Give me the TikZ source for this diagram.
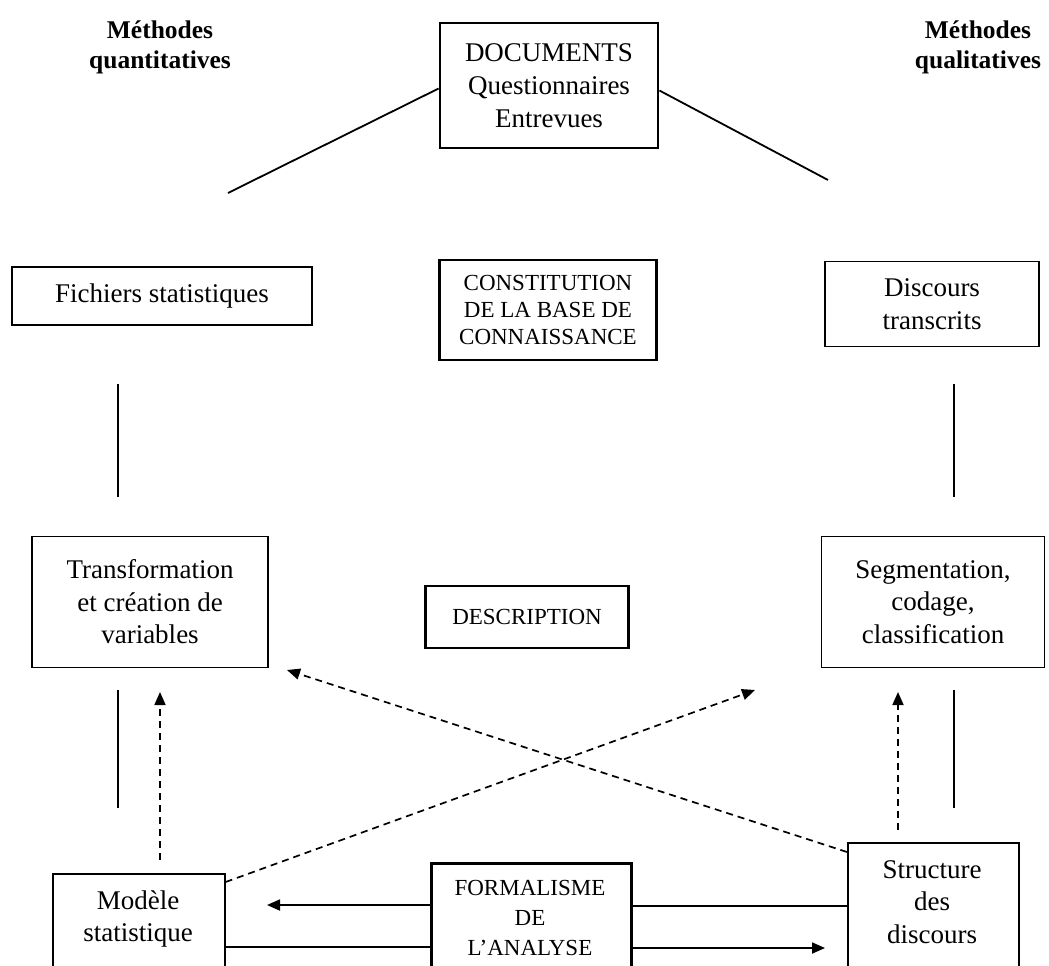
\documentclass[tikz,border=0pt]{standalone}
\usepackage{fontspec}
\setmainfont{Liberation Serif}
\usetikzlibrary{arrows.meta}
\begin{document}
\begin{tikzpicture}[x=1pt,y=-1pt,
  box/.style={draw, line width=1.6pt, align=center, inner sep=0pt, font=\fontsize{27}{32.5}\selectfont},
  thickbox/.style={box, line width=2.8pt, font=\fontsize{23}{27}\selectfont},
  txt/.style={align=center, inner sep=0pt, font=\fontsize{27}{32.5}\selectfont},
  title/.style={align=center, inner sep=0pt, font=\fontsize{25.5}{30}\selectfont\bfseries},
  conn/.style={line width=1.8pt},
  tip/.style={-{Triangle[length=13pt,width=11pt]}},
  dconn/.style={line width=1.7pt, dash pattern=on 7pt off 5pt, tip},
  arr/.style={line width=1.8pt, tip}]
\clip (0,0) rectangle (1049,966);
\fill[white] (0,0) rectangle (1049,966);
% titles
\node[title] (tq) at (160,47) {Méthodes\\quantitatives};
\node[title] (tl) at (978,47) {Méthodes\\qualitatives};
% top
\node[thickbox, font=\fontsize{27}{33}\selectfont, minimum width=218, minimum height=125] (doc) at (549,85.5) {DOCUMENTS\\Questionnaires\\Entrevues};
\coordinate (ql) at (228,193);
\coordinate (qr) at (828,180);
\draw[conn] ([yshift=-3pt]doc.west) -- (ql);
\draw[conn] ([yshift=-5pt]doc.east) -- (qr);
% second row
\node[box, minimum width=300, minimum height=58] (fic) at (162,296) {Fichiers statistiques};
\node[thickbox, minimum width=217, minimum height=100] (con) at (548,310) {CONSTITUTION\\DE LA BASE DE\\CONNAISSANCE};
\node[box, minimum width=214, minimum height=85] (dis) at (932,304) {Discours\\transcrits};
% vertical links
\coordinate (v1a) at (118,384); \coordinate (v1b) at (118,497);
\coordinate (v2a) at (954,384); \coordinate (v2b) at (954,497);
\draw[conn] (v1a) -- (v1b);
\draw[conn] (v2a) -- (v2b);
% third row
\node[box, minimum width=236, minimum height=131] (tra) at (150,602) {Transformation\\et création de\\variables};
\node[thickbox, minimum width=203, minimum height=62] (des) at (527,617) {DESCRIPTION};
\node[box, minimum width=223, minimum height=131] (seg) at (933,602) {Segmentation,\\codage,\\classification};
% bottom row boxes (cut by page edge)
\node[draw, line width=1.6pt, minimum width=172, minimum height=140, anchor=north west, inner sep=0pt] (mod) at (52,873) {};
\node[txt] (modt) at (138,919) {Modèle\\statistique};
\node[draw, line width=2.8pt, minimum width=200, minimum height=150, anchor=north west, inner sep=0pt] (form) at (430,862) {};
\node[txt, font=\fontsize{23}{30}\selectfont] (formt) at (530,918) {FORMALISME\\DE\\L’ANALYSE};
\node[draw, line width=1.6pt, minimum width=171, minimum height=170, anchor=north west, inner sep=0pt] (str) at (847,842) {};
\node[txt] (strt) at (932,902) {Structure\\des\\discours};
% lower vertical links
\coordinate (s1a) at (118,690); \coordinate (s1b) at (118,808);
\coordinate (s2a) at (954,690); \coordinate (s2b) at (954,808);
\draw[conn] (s1a) -- (s1b);
\draw[conn] (s2a) -- (s2b);
\coordinate (d1a) at (160,860); \coordinate (d1b) at (160,692);
\coordinate (d2a) at (898,830); \coordinate (d2b) at (898,692);
\draw[dconn] (d1a) -- (d1b);
\draw[dconn] (d2a) -- (d2b);
% diagonal dashed arrows
\coordinate (x1) at (287,670);
\coordinate (x2) at (755,690);
\draw[dconn] ([yshift=-10pt]str.north west) -- (x1);
\draw[dconn] ([yshift=-9pt]mod.north east) -- (x2);
% bottom connectors
\coordinate (a1) at (267,905);
\coordinate (a2) at (825,948);
\coordinate (y947) at (0,947);
\coordinate (y906) at (0,906);
\draw[arr] (form.west |- a1) -- (a1);
\draw[conn] (mod.east |- y947) -- (form.west |- y947);
\draw[conn] (form.east |- y906) -- (str.west |- y906);
\draw[arr] (form.east |- a2) -- (a2);
\end{tikzpicture}
\end{document}
